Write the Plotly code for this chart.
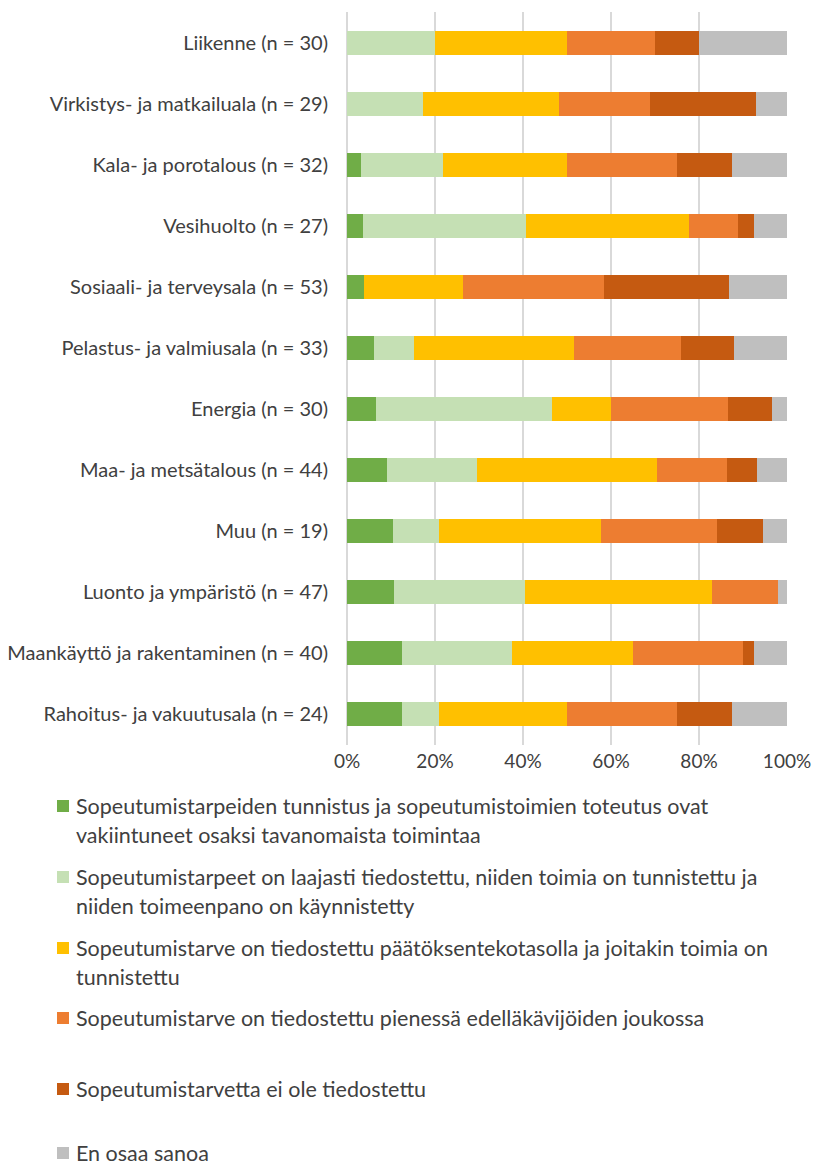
import plotly.graph_objects as go

categories = [
    "Liikenne (n = 30)",
    "Virkistys- ja matkailuala (n = 29)",
    "Kala- ja porotalous (n = 32)",
    "Vesihuolto (n = 27)",
    "Sosiaali- ja terveysala (n = 53)",
    "Pelastus- ja valmiusala (n = 33)",
    "Energia (n = 30)",
    "Maa- ja metsätalous (n = 44)",
    "Muu (n = 19)",
    "Luonto ja ympäristö (n = 47)",
    "Maankäyttö ja rakentaminen (n = 40)",
    "Rahoitus- ja vakuutusala (n = 24)",
]

vakiintunut = [0, 0, 3.1, 3.7, 3.8, 6.1, 6.7, 9.1, 10.5, 10.6, 12.5, 12.5]
laajasti = [20.0, 17.2, 18.8, 37.0, 0, 9.1, 40.0, 20.5, 10.5, 29.8, 25.0, 8.3]
paatoksenteko = [30.0, 31.0, 28.1, 37.0, 22.6, 36.4, 13.3, 40.9, 36.8, 42.6, 27.5, 29.2]
edellakavijat = [20.0, 20.7, 25.0, 11.1, 32.1, 24.2, 26.7, 15.9, 26.3, 14.9, 25.0, 25.0]
ei_tiedostettu = [10.0, 24.1, 12.5, 3.7, 28.3, 12.1, 10.0, 6.8, 10.5, 0, 2.5, 12.5]
en_osaa = [20.0, 6.9, 12.5, 7.4, 13.2, 12.1, 3.3, 6.8, 5.3, 2.1, 7.5, 12.5]

tick_values = [0, 20, 40, 60, 80, 100]
tick_labels = ["0%", "20%", "40%", "60%", "80%", "100%"]

series_names = [
    "Sopeutumistarpeiden tunnistus ja sopeutumistoimien toteutus ovat vakiintuneet osaksi tavanomaista toimintaa",
    "Sopeutumistarpeet on laajasti tiedostettu, niiden toimia on tunnistettu ja niiden toimeenpano on käynnistetty",
    "Sopeutumistarve on tiedostettu päätöksentekotasolla ja joitakin toimia on tunnistettu",
    "Sopeutumistarve on tiedostettu pienessä edelläkävijöiden joukossa",
    "Sopeutumistarvetta ei ole tiedostettu",
    "En osaa sanoa",
]
legend_lines = [
    ["Sopeutumistarpeiden tunnistus ja sopeutumistoimien toteutus ovat",
     "vakiintuneet osaksi tavanomaista toimintaa"],
    ["Sopeutumistarpeet on laajasti tiedostettu, niiden toimia on tunnistettu ja",
     "niiden toimeenpano on käynnistetty"],
    ["Sopeutumistarve on tiedostettu päätöksentekotasolla ja joitakin toimia on",
     "tunnistettu"],
    ["Sopeutumistarve on tiedostettu pienessä edelläkävijöiden joukossa"],
    ["Sopeutumistarvetta ei ole tiedostettu"],
    ["En osaa sanoa"],
]
colors = ["#70AD47", "#C5E0B4", "#FFC000", "#ED7D31", "#C55A11", "#BFBFBF"]
values = [vakiintunut, laajasti, paatoksenteko, edellakavijat, ei_tiedostettu, en_osaa]

FONT = "Lato, Calibri, Carlito, sans-serif"
TXT = "#404040"

W, H = 815, 1169
L, R, T, B = 347, 28, 12, 424
PW = W - L - R
PH = H - T - B

def px_x(px):
    return (px - L) / PW

def px_y(py):
    return (H - B - py) / PH

fig = go.Figure()
for name, vals, col in zip(series_names, values, colors):
    fig.add_trace(go.Bar(
        y=categories, x=vals, name=name, orientation="h",
        marker=dict(color=col, line=dict(width=0)),
        showlegend=False,
        hovertemplate="%{y}: %{x:.1f}%<extra></extra>",
    ))

# manual legend (symbol aligned with first line, Excel style)
item_y = [806, 877, 948, 1018, 1089, 1153]
line_gap = 28.5
annotations = []
shapes = []
for i, lines in enumerate(legend_lines):
    y0 = item_y[i]
    shapes.append(dict(type="rect", xref="paper", yref="paper",
                       x0=px_x(57), x1=px_x(69), y0=px_y(y0 + 6), y1=px_y(y0 - 6),
                       fillcolor=colors[i], line=dict(width=0)))
    for j, t in enumerate(lines):
        annotations.append(dict(text=t, xref="paper", yref="paper",
                                x=px_x(74), y=px_y(y0 + j * line_gap),
                                xanchor="left", yanchor="middle", showarrow=False,
                                font=dict(family=FONT, size=21.5, color=TXT)))

fig.update_layout(
    width=W, height=H,
    margin=dict(l=L, r=R, t=T, b=B, pad=0, autoexpand=False),
    barmode="stack",
    bargap=0.607,
    plot_bgcolor="white", paper_bgcolor="white",
    font=dict(family=FONT, size=20, color=TXT),
    xaxis=dict(range=[0, 100], tickmode="array", tickvals=tick_values, ticktext=tick_labels,
               showgrid=True, gridcolor="#D9D9D9", gridwidth=1.5,
               zeroline=True, zerolinecolor="#D9D9D9", zerolinewidth=1.5,
               showline=False, ticks="", ticklabelstandoff=3, automargin=False,
               tickfont=dict(family=FONT, size=19, color=TXT), fixedrange=True),
    yaxis=dict(autorange="reversed", showgrid=False, ticks="", showline=False,
               ticklabelstandoff=18, automargin=False,
               tickfont=dict(family=FONT, size=20, color=TXT), fixedrange=True),
    annotations=annotations,
    shapes=shapes,
)

fig.write_html("out.html", config={"displayModeBar": False},
               post_script="document.body.style.margin='0';document.body.style.overflow='hidden';")
